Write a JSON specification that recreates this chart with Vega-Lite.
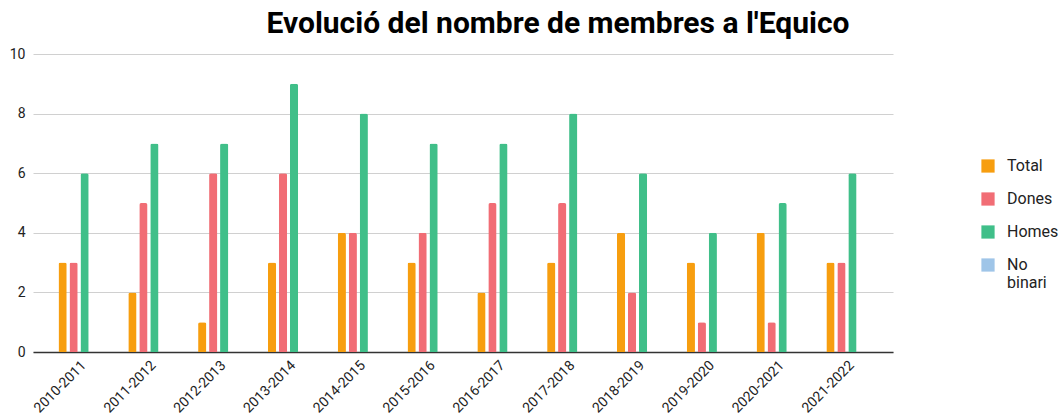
{
  "$schema": "https://vega.github.io/schema/vega-lite/v6.json",
  "width": 860,
  "height": 298,
  "autosize": {"type": "none"},
  "padding": {"left": 33, "top": 54, "right": 169, "bottom": 64},
  "background": "white",
  "config": {"font": "Roboto", "view": {"stroke": null}},
  "title": {"text": "Evolució del nombre de membres a l'Equico", "fontSize": 30, "fontWeight": "bold", "color": "#000", "anchor": "middle", "dx": 95, "offset": 8, "font": "Roboto"},
  "data": {"values": [
    {"curs": "2010-2011", "serie": "Total", "v": 3}, {"curs": "2010-2011", "serie": "Dones", "v": 3}, {"curs": "2010-2011", "serie": "Homes", "v": 6}, {"curs": "2010-2011", "serie": "No binari", "v": 0},
    {"curs": "2011-2012", "serie": "Total", "v": 2}, {"curs": "2011-2012", "serie": "Dones", "v": 5}, {"curs": "2011-2012", "serie": "Homes", "v": 7}, {"curs": "2011-2012", "serie": "No binari", "v": 0},
    {"curs": "2012-2013", "serie": "Total", "v": 1}, {"curs": "2012-2013", "serie": "Dones", "v": 6}, {"curs": "2012-2013", "serie": "Homes", "v": 7}, {"curs": "2012-2013", "serie": "No binari", "v": 0},
    {"curs": "2013-2014", "serie": "Total", "v": 3}, {"curs": "2013-2014", "serie": "Dones", "v": 6}, {"curs": "2013-2014", "serie": "Homes", "v": 9}, {"curs": "2013-2014", "serie": "No binari", "v": 0},
    {"curs": "2014-2015", "serie": "Total", "v": 4}, {"curs": "2014-2015", "serie": "Dones", "v": 4}, {"curs": "2014-2015", "serie": "Homes", "v": 8}, {"curs": "2014-2015", "serie": "No binari", "v": 0},
    {"curs": "2015-2016", "serie": "Total", "v": 3}, {"curs": "2015-2016", "serie": "Dones", "v": 4}, {"curs": "2015-2016", "serie": "Homes", "v": 7}, {"curs": "2015-2016", "serie": "No binari", "v": 0},
    {"curs": "2016-2017", "serie": "Total", "v": 2}, {"curs": "2016-2017", "serie": "Dones", "v": 5}, {"curs": "2016-2017", "serie": "Homes", "v": 7}, {"curs": "2016-2017", "serie": "No binari", "v": 0},
    {"curs": "2017-2018", "serie": "Total", "v": 3}, {"curs": "2017-2018", "serie": "Dones", "v": 5}, {"curs": "2017-2018", "serie": "Homes", "v": 8}, {"curs": "2017-2018", "serie": "No binari", "v": 0},
    {"curs": "2018-2019", "serie": "Total", "v": 4}, {"curs": "2018-2019", "serie": "Dones", "v": 2}, {"curs": "2018-2019", "serie": "Homes", "v": 6}, {"curs": "2018-2019", "serie": "No binari", "v": 0},
    {"curs": "2019-2020", "serie": "Total", "v": 3}, {"curs": "2019-2020", "serie": "Dones", "v": 1}, {"curs": "2019-2020", "serie": "Homes", "v": 4}, {"curs": "2019-2020", "serie": "No binari", "v": 0},
    {"curs": "2020-2021", "serie": "Total", "v": 4}, {"curs": "2020-2021", "serie": "Dones", "v": 1}, {"curs": "2020-2021", "serie": "Homes", "v": 5}, {"curs": "2020-2021", "serie": "No binari", "v": 0},
    {"curs": "2021-2022", "serie": "Total", "v": 3}, {"curs": "2021-2022", "serie": "Dones", "v": 3}, {"curs": "2021-2022", "serie": "Homes", "v": 6}, {"curs": "2021-2022", "serie": "No binari", "v": 0}
  ]},
  "mark": {"type": "bar", "cornerRadiusTopLeft": 2, "cornerRadiusTopRight": 2},
  "encoding": {
    "x": {"field": "curs", "type": "nominal", "sort": null,
      "scale": {"paddingInner": 0.41, "paddingOuter": 0.365},
      "axis": {"title": null, "labelAngle": -45, "labelFontSize": 14, "labelColor": "#222", "ticks": false, "domainColor": "#333", "domainWidth": 1.5, "labelPadding": 6, "grid": false}},
    "xOffset": {"field": "serie", "type": "nominal", "sort": ["Total", "Dones", "Homes", "No binari"], "scale": {"paddingInner": 0.25}},
    "y": {"field": "v", "type": "quantitative",
      "scale": {"domain": [0, 10]},
      "axis": {"title": null, "values": [0, 2, 4, 6, 8, 10], "labelFontSize": 14, "labelColor": "#222", "ticks": false, "domain": false, "gridColor": "#d0d0d0", "labelPadding": 8}},
    "color": {"field": "serie", "type": "nominal",
      "scale": {"domain": ["Total", "Dones", "Homes", "No binari"], "range": ["#F79E0F", "#F16D75", "#40BF89", "#9FC5E8"]},
      "legend": {"title": null, "orient": "none", "legendX": 947, "legendY": 104, "symbolType": "square", "symbolSize": 175, "symbolStrokeWidth": 0, "labelFontSize": 16, "labelColor": "#222", "rowPadding": 17, "labelOffset": 11,
        "labelExpr": "datum.label == 'No binari' ? ['No', 'binari'] : datum.label"}}
  }
}
